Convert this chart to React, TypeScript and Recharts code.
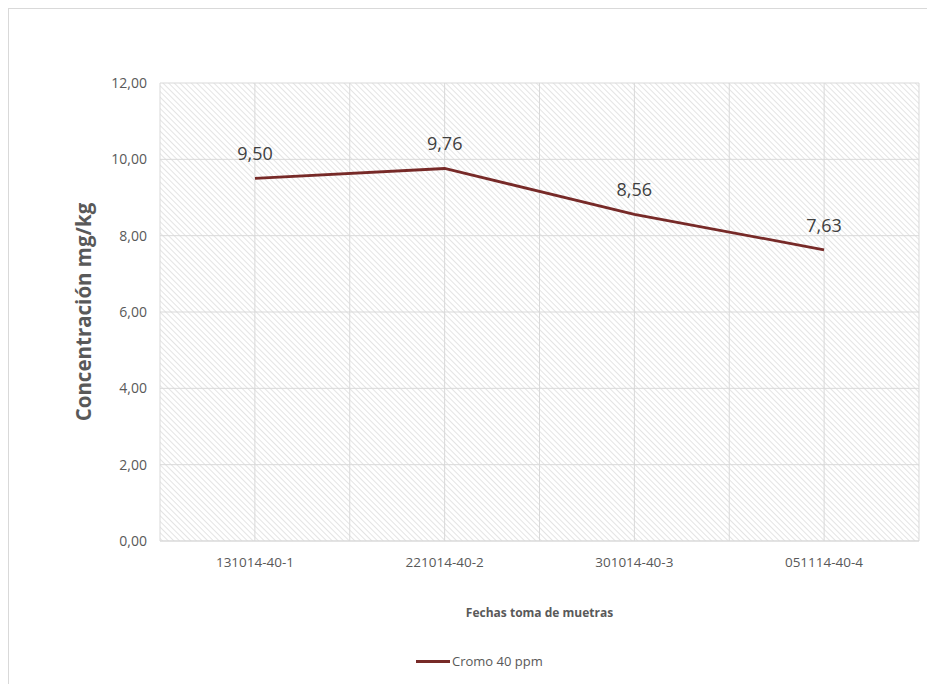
import { LineChart, Line, XAxis, YAxis, CartesianGrid, Legend, LabelList } from "recharts";

const muestras = ["131014-40-1", "221014-40-2", "301014-40-3", "051114-40-4"];
const cromo = [9.5, 9.76, 8.56, 7.63];
const yTicks = [0, 2, 4, 6, 8, 10, 12];

const data = muestras.map((m, i) => ({ muestra: m, cromo: cromo[i] }));

const FONT = "'Open Sans', 'Noto Sans', sans-serif";
const LINE_COLOR = "#772a28";
const GRID = "#d9d9d9";

const fmt = (v: number) => v.toFixed(2).replace(".", ",");

function LegendBox() {
  return (
    <div style={{ display: "flex", alignItems: "center", marginLeft: 407, fontFamily: FONT, fontSize: 13, color: "#595959" }}>
      <span style={{ display: "inline-block", width: 34, height: 3, background: LINE_COLOR, marginRight: 2 }} />
      <span>Cromo 40 ppm</span>
    </div>
  );
}

export default function App() {
  return (
    <div style={{ width: 927, height: 676, borderLeft: "1px solid #d9d9d9", borderTop: "1px solid #d9d9d9", background: "#fff" }}>
      <LineChart width={926} height={676} data={data} margin={{ top: 74, right: 16, left: 0, bottom: 0 }}>
        <defs>
          <pattern id="hatch" patternUnits="userSpaceOnUse" width="4" height="4" patternTransform="rotate(-45)">
            <rect width="4" height="4" fill="#ffffff" />
            <line x1="0" y1="0" x2="0" y2="4" stroke="#dedede" strokeWidth="1.6" />
          </pattern>
        </defs>
        <CartesianGrid
          fill="url(#hatch)"
          stroke={GRID}
          verticalCoordinatesGenerator={({ offset }: any) =>
            Array.from({ length: muestras.length * 2 + 1 }, (_, i) => offset.left + (i * offset.width) / (muestras.length * 2))
          }
        />
        <XAxis
          dataKey="muestra"
          height={80}
          padding={{ left: 95, right: 95 }}
          stroke={GRID}
          tickLine={false}
          tickSize={0}
          tickMargin={16}
          tick={{ fontSize: 13.5, fill: "#595959", fontFamily: FONT }}
          label={{ value: "Fechas toma de muetras", position: "insideBottom", offset: 4, fontSize: 12, fontWeight: 700, fill: "#595959", fontFamily: FONT }}
        />
        <YAxis
          width={151}
          domain={[0, 12]}
          ticks={yTicks}
          axisLine={false}
          tickLine={false}
          tickSize={0}
          tickMargin={13}
          tickFormatter={fmt}
          tick={{ fontSize: 14, fill: "#595959", fontFamily: FONT }}
          label={({ viewBox }: any) => {
            const cx = viewBox.x + 74;
            const cy = viewBox.y + viewBox.height / 2;
            return (
              <text x={cx} y={cy} transform={`rotate(-90 ${cx} ${cy})`} textAnchor="middle" dominantBaseline="central"
                fontSize={20.5} fontWeight={700} fill="#595959" fontFamily={FONT}>
                Concentración mg/kg
              </text>
            );
          }}
        />
        <Legend verticalAlign="bottom" height={64} content={<LegendBox />} wrapperStyle={{ top: 643, left: 0, width: 926 }} />
        <Line type="linear" dataKey="cromo" name="Cromo 40 ppm" stroke={LINE_COLOR} strokeWidth={2.8} dot={false} isAnimationActive={false}>
          <LabelList dataKey="cromo" position="top" offset={18} formatter={(v: any) => fmt(Number(v))}
            style={{ fontSize: 18, fill: "#404040", fontFamily: FONT }} />
        </Line>
      </LineChart>
    </div>
  );
}
